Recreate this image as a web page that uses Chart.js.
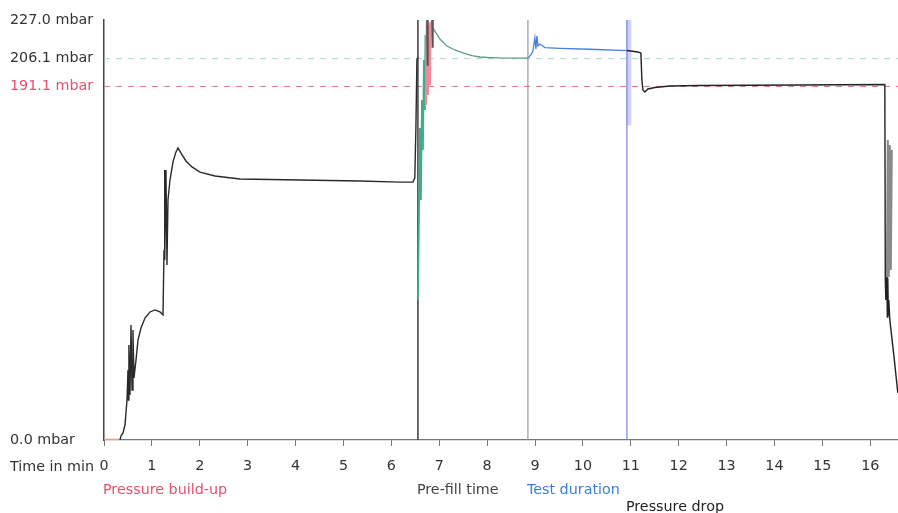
<!DOCTYPE html>
<html>
<head>
<meta charset="utf-8">
<script src="https://cdn.jsdelivr.net/npm/chart.js@4/dist/chart.umd.min.js"></script>
<style>
  html, body { margin: 0; padding: 0; background: #fff; }
  canvas { display: block; }
</style>
</head>
<body>
<canvas id="pressureChart" width="898" height="513"></canvas>
<script>
// axis
const timeMax = 16.58
const pressureMax = 227.0
const yTickValues = [0, 191.1, 206.1, 227.0]
const testPressure = 206.1
const limitPressure = 191.1

// phases (start time in min)
const phaseNames = ['Pressure build-up', 'Pre-fill time', 'Test duration', 'Pressure drop']
const phaseTimes = [0, 6.555, 8.852, 10.919]
const phaseColors = ['#e8506e', '#444444', '#3a7fd8', '#222222']
const phaseRows = [0, 0, 0, 1]

// curve pieces, time in min / pressure in mbar
const buildTime = [0, 0.334]
const buildP = [0.4, 0.4]

const mainTime = [0.334,0.355,0.397,0.438,0.480,0.501,0.511,0.520,0.543,0.564,0.585,0.605,0.626,0.668,0.710,0.772,0.856,0.960,1.065,1.169,1.232,1.253,1.263,1.273,1.294,1.315,1.336,1.378,1.441,1.503,1.545,1.608,1.712,1.837,2.004,2.317,2.839,4.092,5.344,6.180,6.450,6.490,6.514,6.534,6.555]
const mainP = [0,2.2,3.8,8.1,21.6,37.8,21.6,51.3,24.3,62.2,27.0,59.5,33.5,43.2,54.0,60.5,65.9,69.2,70.3,69.2,67.6,102.7,145.9,97.3,145.9,94.6,129.7,140.5,150.3,155.7,157.8,155.1,150.8,147.6,144.8,142.7,141.1,140.5,140.0,139.4,139.4,141.6,170.1,205.4,207.0]

const prefillTime = [6.555,6.576,6.597,6.618,6.639,6.660,6.681,6.701,6.712,6.722]
const prefillP = [75.7,118.9,168.6,129.7,183.8,156.7,205.4,178.4,218.9,205.4]

const redTime = [6.722,6.743,6.764,6.785,6.806,6.816]
const redP = [181.1,225.4,186.5,224.3,191.9,225.9]

const spikeTime = [6.743,6.754,6.764,null,6.848,6.858,6.868]
const spikeP = [227,202.7,227,null,227,212.4,227]

const settleTime = [6.868,6.931,7.015,7.161,7.328,7.495,7.683,7.850,8.058,8.267,8.580,8.852]
const settleP = [222.7,220.0,216.7,212.9,210.8,209.2,207.8,207.0,206.7,206.5,206.4,206.4]

const testTime = [8.852,8.914,8.956,8.998,9.019,9.040,9.061,9.102,9.207,9.520,10.146,10.919]
const testP = [206.4,208.1,210.2,217.3,211.3,218.4,212.9,214.0,212.1,211.7,211.2,210.5]

const dropTime = [10.919,11.148,11.211,11.232,11.253,11.294,11.357,11.503,11.816,12.443,14.530,16.305,16.315,16.326,16.347,16.357,16.367,16.378,16.388,16.409,16.493,16.576]
const dropP = [210.5,209.7,209.2,194.6,189.2,188.1,189.7,190.5,191.3,191.6,191.9,192.1,86.5,75.7,88.1,66.5,87.6,67.6,75.7,64.9,45.9,25.4]

const endTime = [16.347,16.367,16.388,16.409,16.430,16.451]
const endP = [86.5,162.1,88.0,159.4,91.9,156.7]

const toPts = (t, p) => t.map((v, i) => v === null ? {x: null, y: null} : {x: v, y: p[i]})

const line = (t, p, color, width, extra) => Object.assign({
    data: toPts(t, p),
    borderColor: color,
    borderWidth: width,
    pointRadius: 0,
    tension: 0,
    showLine: true,
    fill: false,
    spanGaps: false
}, extra || {})

const datasets = [
    line(mainTime, mainP, '#2a2a2a', 1.4),
    line(spikeTime, spikeP, '#555555', 1.6),
    line(redTime, redP, '#f08a98', 2.2),
    line(prefillTime, prefillP, '#3cae8c', 1.8),
    line(settleTime, settleP, '#5f9a8a', 1.3),
    line(testTime, testP, '#4a7fe0', 1.3),
    line(dropTime, dropP, '#222222', 1.4),
    line(endTime, endP, '#8a8a8a', 2),
    // phase markers
    line([phaseTimes[1], phaseTimes[1]], [0, pressureMax], '#4a4a4a', 1.6),
    line([phaseTimes[2], phaseTimes[2]], [0, pressureMax], '#9a9a9a', 1.2),
    line([phaseTimes[3], phaseTimes[3]], [0, pressureMax], '#7b8ee0', 1.3),
    line([phaseTimes[3] + 0.04, phaseTimes[3] + 0.04], [170, pressureMax], 'rgba(150,150,235,0.45)', 5),
    line(buildTime, buildP, '#f0a0a0', 1.2),
    // reference pressures
    line([0, timeMax], [testPressure, testPressure], '#a6d8cc', 1, {borderDash: [6, 6]}),
    line([0, timeMax], [limitPressure, limitPressure], '#e8707e', 1, {borderDash: [6, 6]})
]

const FONT = '"DejaVu Sans", Verdana, sans-serif'

const phaseLabels = {
    id: 'phaseLabels',
    afterDraw(chart) {
        const ctx = chart.ctx
        const xs = chart.scales.x
        ctx.save()
        ctx.font = '14.3px ' + FONT
        ctx.textBaseline = 'middle'
        ctx.textAlign = 'left'
        ctx.fillStyle = '#333'
        ctx.fillText('Time in min', 10, 467)
        phaseNames.forEach((name, i) => {
            ctx.fillStyle = phaseColors[i]
            ctx.fillText(name, xs.getPixelForValue(phaseTimes[i]) - 1, 490 + phaseRows[i] * 17)
        })
        ctx.restore()
    }
}

new Chart(document.getElementById('pressureChart'), {
    type: 'scatter',
    data: { datasets },
    options: {
        responsive: false,
        animation: false,
        devicePixelRatio: 1,
        layout: { padding: { left: 10, top: 20, right: 0, bottom: 0 } },
        plugins: { legend: { display: false }, tooltip: { enabled: false } },
        scales: {
            x: {
                type: 'linear',
                min: 0,
                max: timeMax,
                afterFit: s => { s.height = 73 },
                afterBuildTicks: s => { s.ticks = [...Array(17).keys()].map(v => ({value: v})) },
                grid: { drawOnChartArea: false, drawTicks: true, tickLength: 6, color: '#777' },
                border: { display: true, color: '#777', width: 1.2 },
                ticks: {
                    padding: 12,
                    color: '#333',
                    maxRotation: 0,
                    autoSkip: false,
                    font: { family: FONT, size: 14.3 }
                }
            },
            y: {
                type: 'linear',
                min: 0,
                max: pressureMax,
                afterFit: s => { s.width = 94 },
                afterBuildTicks: s => { s.ticks = yTickValues.map(v => ({value: v})) },
                grid: { display: false },
                border: { display: true, color: '#444', width: 1.5 },
                ticks: {
                    crossAlign: 'far',
                    autoSkip: false,
                    callback: v => v.toFixed(1) + ' mbar',
                    color: c => c.tick && c.tick.value === limitPressure ? '#e8506e' : '#333',
                    font: { family: FONT, size: 14.3 }
                }
            }
        }
    },
    plugins: [phaseLabels]
})
</script>
</body>
</html>
